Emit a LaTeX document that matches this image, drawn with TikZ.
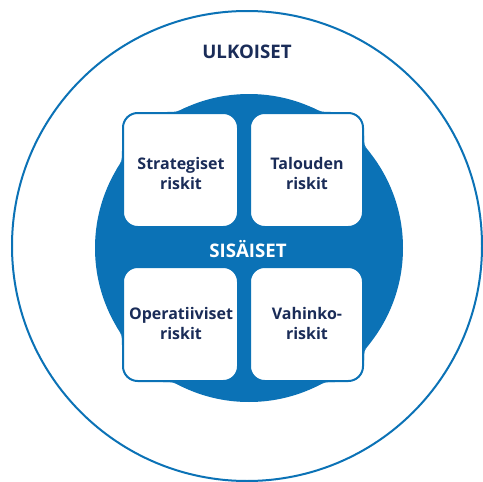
\documentclass[tikz,border=0pt]{standalone}
\usepackage{fontspec}
\setmainfont{Open Sans}
\usetikzlibrary{calc}
\definecolor{riskblue}{RGB}{11,114,182}
\definecolor{risknavy}{RGB}{26,44,88}
\begin{document}
\begin{tikzpicture}[x=0.75pt,y=-0.75pt,
  boxstyle/.style={fill=white,draw=riskblue,line width=1.5pt,rounded corners=11pt},
  boxtext/.style={text=risknavy,font=\bfseries\fontsize{12}{15}\selectfont,align=center}]
\useasboundingbox[fill=white] (0,0) rectangle (483,482);
% outer circle
\draw[riskblue,line width=1.5pt] (247,246) circle[radius=235];
% inner circle
\coordinate (c) at (249,248);
\fill[riskblue] (c) circle[radius=154];
% fillets between circle and boxes
\newcommand{\riskfillet}[3]{% A, P, angle of B
  \fill[riskblue] #1 -- #2 -- ($(c)+(#3:154)$) .. controls #2 .. #1 -- cycle;}
\riskfillet{(166.8,112)}{(176.8,112)}{245.8}
\riskfillet{(331.2,112)}{(321.2,112)}{294.2}
\riskfillet{(163.1,382)}{(173.1,382)}{115.8}
\riskfillet{(334.9,382)}{(324.9,382)}{64.2}
\riskfillet{(122,150.9)}{(122,160.9)}{210.7}
\riskfillet{(122,345.1)}{(122,335.1)}{149.3}
\riskfillet{(364,135.6)}{(364,145.6)}{322.0}
\riskfillet{(364,360.4)}{(364,350.4)}{38.0}
% boxes
\draw[boxstyle] (123,113) rectangle (238,227);
\draw[boxstyle] (250,113) rectangle (363,227);
\draw[boxstyle] (123,267) rectangle (238,381);
\draw[boxstyle] (250,267) rectangle (363,381);
% texts
\node[boxtext] (strat) at (181,173) {Strategiset\\riskit};
\node[boxtext] (talous) at (307,173) {Talouden\\riskit};
\node[boxtext] (oper) at (181,323) {Operatiiviset\\riskit};
\node[boxtext] (vahinko) at (307,323) {Vahinko-\\riskit};
\node[text=white,font=\bfseries\fontsize{14}{16}\selectfont] (sis) at (248,249) {SISÄISET};
\node[text=risknavy,font=\bfseries\fontsize{14}{16}\selectfont] (ulk) at (247,52) {ULKOISET};
\end{tikzpicture}
\end{document}
